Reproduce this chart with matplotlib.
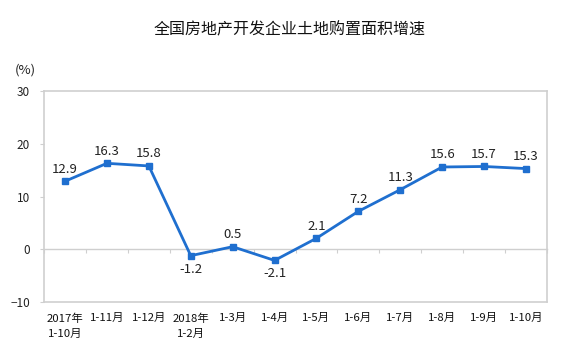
import numpy as np
import matplotlib
matplotlib.use("Agg")
from matplotlib import pyplot as plt

plt.rcParams['font.family'] = ['Noto Sans CJK SC', 'DejaVu Sans']

# data
months = ["2017年\n1-10月", "1-11月", "1-12月", "2018年\n1-2月", "1-3月", "1-4月",
          "1-5月", "1-6月", "1-7月", "1-8月", "1-9月", "1-10月"]
growth = [12.9, 16.3, 15.8, -1.2, 0.5, -2.1, 2.1, 7.2, 11.3, 15.6, 15.7, 15.3]
yticks = [-10, 0, 10, 20, 30]

grey = "#cfcfcf"
blue = "#1f6fcf"

fig = plt.figure(figsize=(5.8, 3.64), dpi=100)
ax = fig.add_axes([0.076, 0.170, 0.867, 0.580])

x = np.arange(len(months))
ax.plot(x, growth, color=blue, lw=2, marker="s", ms=5, zorder=3)

# value labels, negatives go below the point
for xi, v in zip(x, growth):
    if v < 0:
        ax.annotate(f"{v:.1f}", (xi, v), xytext=(0, -5), textcoords="offset points",
                    ha="center", va="top", fontsize=9.5, color="#222222")
    else:
        ax.annotate(f"{v:.1f}", (xi, v), xytext=(0, 4), textcoords="offset points",
                    ha="center", va="bottom", fontsize=9.5, color="#222222")

ax.set_xlim(-0.5, len(months) - 0.5)
ax.set_ylim(yticks[0], yticks[-1])
ax.set_yticks(yticks)
ax.tick_params(axis="y", length=3, color=grey, pad=7, labelsize=8.5, labelcolor="#222222")

# category labels sit below the box, no ticks there
ax.set_xticks(x)
ax.set_xticklabels(months, fontsize=8.2, linespacing=1.6)
ax.tick_params(axis="x", length=0, pad=8, labelcolor="#111111")

for sp in ax.spines.values():
    sp.set_color(grey)
    sp.set_linewidth(1.2)

# zero line with small ticks between categories
zero_pos = (0 - yticks[0]) / (yticks[-1] - yticks[0])
zax = ax.secondary_xaxis(zero_pos)
zax.set_xticks(np.arange(len(months) + 1) - 0.5)
zax.set_xticklabels([])
zax.tick_params(length=3, color=grey, direction="out")
zax.spines["bottom"].set_color(grey)
zax.spines["bottom"].set_linewidth(1.0)

fig.text(0.5, 0.918, "全国房地产开发企业土地购置面积增速", ha="center", va="center",
         fontsize=11.5, color="#111111")
fig.text(0.043, 0.808, "(%)", ha="center", va="center", fontsize=9.5, color="#222222")

fig.savefig("out.png", dpi=100)
